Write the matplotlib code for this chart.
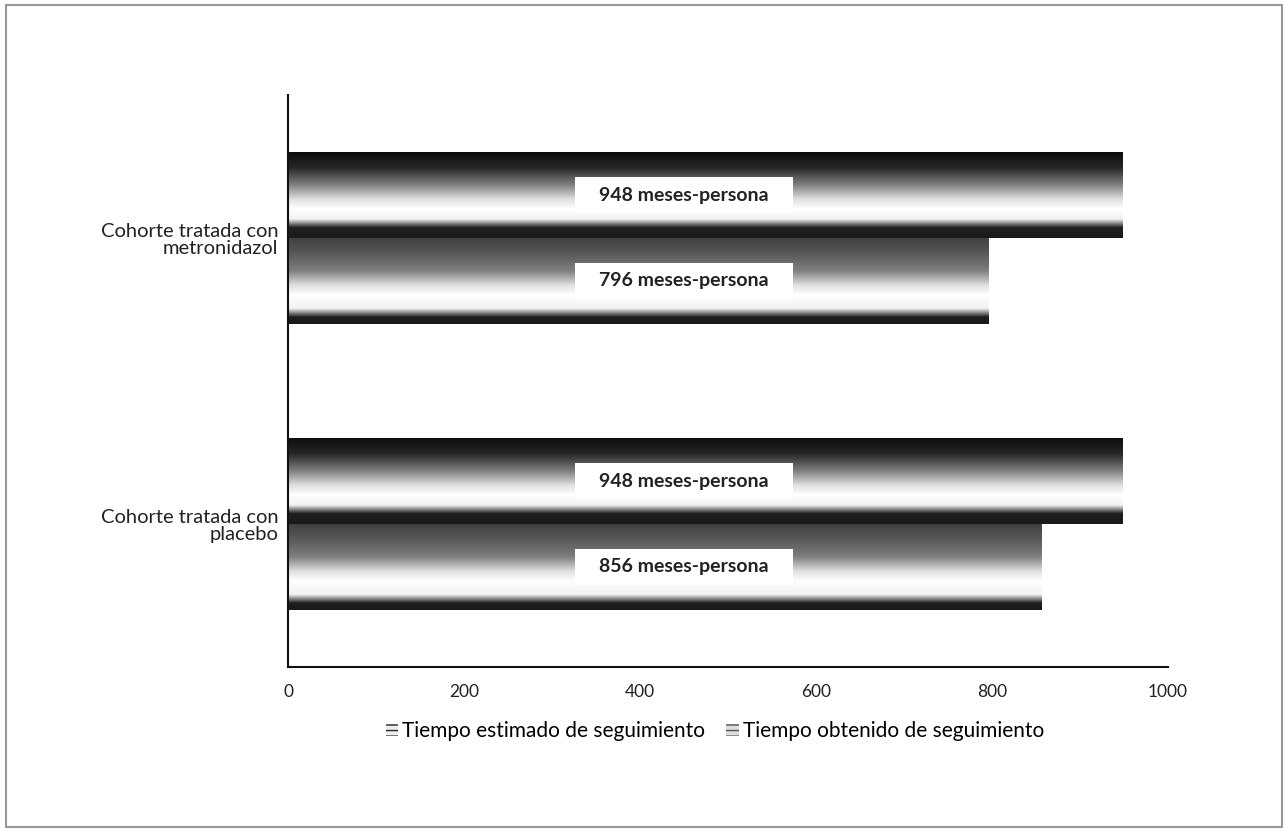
import numpy as np
import matplotlib.pyplot as plt
from matplotlib.patches import Rectangle, Patch

# Datos: tiempo de seguimiento (meses-persona) por cohorte
cohortes = ["Cohorte tratada con\nplacebo", "Cohorte tratada con\nmetronidazol"]
tiempo_estimado = [948, 948]
tiempo_obtenido = [856, 796]
series = ["Tiempo estimado de seguimiento", "Tiempo obtenido de seguimiento"]
xticks = [0, 200, 400, 600, 800, 1000]

plt.rcParams['font.family'] = ['Lato', 'DejaVu Sans']


def gradiente(tono_sup, borde):
    # degradado vertical: oscuro arriba, blanco abajo, borde inferior oscuro
    t = np.linspace(0, 1, 200)
    pts = [0.0, 0.18, 0.38, 0.55, 0.66, 1 - borde - 0.1, 1 - borde, 1.0]
    val = [tono_sup, tono_sup + 0.1, 0.5, 0.88, 1.0, 0.95, 0.12, 0.1]
    g = np.interp(t, pts, val)
    return np.dstack([g, g, g]).reshape(200, 1, 3)


fig = plt.figure(figsize=(12.84, 8.3), dpi=100)
ax = fig.add_axes([288 / 1284, 1 - 667 / 830, 880 / 1284, 572 / 830])

y = np.arange(len(cohortes))
h = 0.3
b_est = ax.barh(y + h / 2, tiempo_estimado, height=h, color='none', edgecolor='none')
b_obt = ax.barh(y - h / 2, tiempo_obtenido, height=h, color='none', edgecolor='none')

for barras, tono, borde, vals in [(b_est, 0.05, 0.12, tiempo_estimado),
                                  (b_obt, 0.25, 0.08, tiempo_obtenido)]:
    img = gradiente(tono, borde)
    for bar, v in zip(barras, vals):
        x0, y0 = bar.get_x(), bar.get_y()
        x1, y1 = x0 + bar.get_width(), y0 + bar.get_height()
        ax.imshow(img, extent=[x0, x1, y0, y1], aspect='auto', zorder=2)
        # etiqueta con caja blanca
        yc = (y0 + y1) / 2
        ax.add_patch(Rectangle((450 - 124, yc - 0.064), 248, 0.128,
                               facecolor='white', edgecolor='none', zorder=3))
        ax.text(450, yc, f"{v} meses-persona", ha='center', va='center',
                fontsize=14, fontweight='bold', color='#222', zorder=4)

ax.set_xlim(0, 1000)
ax.set_ylim(-0.5, 1.5)
ax.set_xticks(xticks)
ax.set_xticklabels([str(v) for v in xticks], fontsize=12.5, color='#222')
ax.set_yticks(y)
ax.set_yticklabels(cohortes, fontsize=14.5, color='#222', linespacing=1.05)
ax.tick_params(axis='x', length=0, pad=12)
ax.tick_params(axis='y', length=0, pad=7)
for lado in ['top', 'right']:
    ax.spines[lado].set_visible(False)
for lado in ['left', 'bottom']:
    ax.spines[lado].set_linewidth(1.5)
    ax.spines[lado].set_color('#111')

handles = [Patch(facecolor='#eeeeee', edgecolor='#222', hatch='---', linewidth=0),
           Patch(facecolor='#dddddd', edgecolor='#555', hatch='---', linewidth=0)]
fig.legend(handles, series, loc='center', bbox_to_anchor=(715 / 1284, 1 - 731 / 830),
           ncol=2, frameon=False, fontsize=15, handlelength=0.6, handleheight=0.5,
           handletextpad=0.2, columnspacing=1.0)

# marco exterior
fig.patches.append(Rectangle((6 / 1284, 3 / 830), 1276 / 1284, 822 / 830,
                             transform=fig.transFigure, facecolor='none',
                             edgecolor='#999999', linewidth=1.5))

fig.savefig("out.png", dpi=100)
